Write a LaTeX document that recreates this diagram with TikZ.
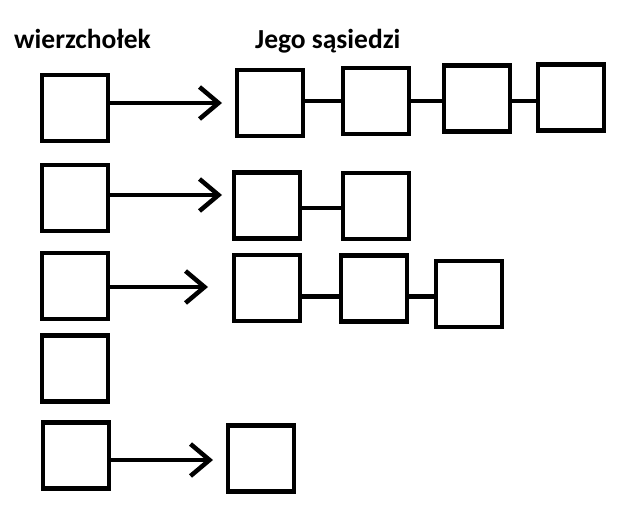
\documentclass[tikz,border=0pt]{standalone}
\usepackage{fontspec}
\setmainfont{Carlito}
\usetikzlibrary{positioning,arrows.meta}

\begin{document}
\begin{tikzpicture}[
    x=1pt, y=-1pt,
    font=\fontsize{27.5}{32}\selectfont\bfseries,
    box/.style={rectangle, draw, line width=4.5pt, minimum size=66pt, inner sep=0pt},
    link/.style={line width=4.5pt},
    arr/.style={line width=4.5pt, -{Straight Barb[length=19pt, width=32pt]}},
    title/.style={anchor=base west, inner sep=0pt}
]
\useasboundingbox (0,0) rectangle (619,508);
% --- Headers ---
\node[title] (Hv) at (14,49) {wierzchołek};
\node[title] (Hn) at (255,49) {Jego sąsiedzi};

% --- Vertices (left column) ---
\node[box] (V1) at (75,108) {};
\node[box] (V2) at (75,198) {};
\node[box] (V3) at (75,286) {};
\node[box] (V4) at (75,368.5) {};
\node[box] (V5) at (76,455.5) {};

% --- Neighbour lists ---
\node[box] (N1a) at (270,103) {};
\node[box] (N1b) at (376,101) {};
\node[box] (N1c) at (477,98.5) {};
\node[box] (N1d) at (571,97.5) {};
\node[box] (N2a) at (267,205.5) {};
\node[box] (N2b) at (376,206) {};
\node[box] (N3a) at (267,288) {};
\node[box] (N3b) at (374,288.5) {};
\node[box] (N3c) at (469,294) {};
\node[box] (N5a) at (261,458.5) {};

% --- Arrow tips and link rows ---
\coordinate (T1) at (222,103);
\coordinate (T2) at (222,195);
\coordinate (T3) at (208,287);
\coordinate (T5) at (213,460);
\coordinate (R1) at (0,101);
\coordinate (R2) at (0,208);
\coordinate (R3) at (0,296.5);

\draw[arr] (V1.east |- T1) -- (T1);
\draw[arr] (V2.east |- T2) -- (T2);
\draw[arr] (V3.east |- T3) -- (T3);
\draw[arr] (V5.east |- T5) -- (T5);

\draw[link] (N1a.east |- R1) -- (N1b.west |- R1);
\draw[link] (N1b.east |- R1) -- (N1c.west |- R1);
\draw[link] (N1c.east |- R1) -- (N1d.west |- R1);
\draw[link] (N2a.east |- R2) -- (N2b.west |- R2);
\draw[link] (N3a.east |- R3) -- (N3b.west |- R3);
\draw[link] (N3b.east |- R3) -- (N3c.west |- R3);
\end{tikzpicture}
\end{document}
